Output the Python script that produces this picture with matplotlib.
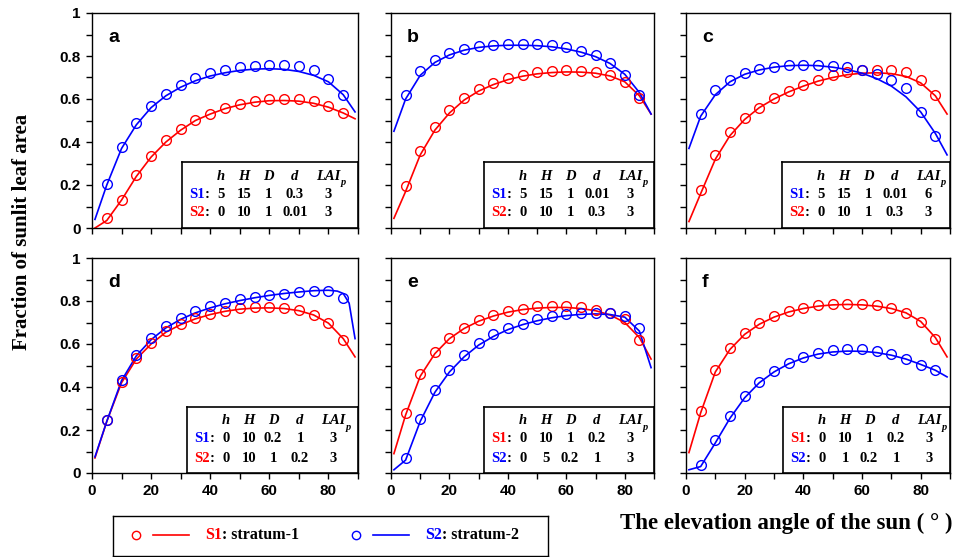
import numpy as np
import matplotlib
matplotlib.use("Agg")
import matplotlib.pyplot as plt

# elevation angles of the simulated points and of the model curves
x_pts = [5, 10, 15, 20, 25, 30, 35, 40, 45, 50, 55, 60, 65, 70, 75, 80, 85]
x_curve = [1, 5, 10, 15, 20, 25, 30, 35, 40, 45, 50, 55, 60, 65, 70, 75, 80, 85, 89]
x_curve_d_blue = [1, 5, 10, 15, 20, 25, 30, 35, 40, 45, 50, 55, 60, 65, 70, 75, 80, 83, 85, 87, 89]

# panel a
a_blue_pts = [0.206, 0.375, 0.487, 0.567, 0.625, 0.667, 0.698, 0.721, 0.736, 0.747, 0.755, 0.760, 0.758, 0.752, 0.735, 0.695, 0.620]
a_red_pts = [0.048, 0.132, 0.245, 0.336, 0.409, 0.462, 0.504, 0.532, 0.558, 0.577, 0.591, 0.598, 0.602, 0.598, 0.589, 0.567, 0.536]
a_blue_curve = [0.04, 0.20, 0.37, 0.48, 0.56, 0.615, 0.655, 0.685, 0.707, 0.722, 0.733, 0.739, 0.741, 0.738, 0.728, 0.71, 0.68, 0.62, 0.54]
a_red_curve = [0.0, 0.035, 0.13, 0.24, 0.33, 0.40, 0.455, 0.50, 0.53, 0.555, 0.573, 0.585, 0.592, 0.593, 0.59, 0.58, 0.562, 0.535, 0.508]

# panel b
b_blue_pts = [0.620, 0.730, 0.781, 0.816, 0.833, 0.845, 0.853, 0.856, 0.857, 0.854, 0.851, 0.840, 0.825, 0.805, 0.767, 0.712, 0.619]
b_red_pts = [0.194, 0.358, 0.470, 0.547, 0.605, 0.645, 0.674, 0.696, 0.712, 0.724, 0.730, 0.733, 0.732, 0.727, 0.712, 0.681, 0.606]
b_blue_curve = [0.45, 0.60, 0.71, 0.77, 0.805, 0.827, 0.84, 0.847, 0.85, 0.85, 0.848, 0.843, 0.833, 0.818, 0.797, 0.765, 0.715, 0.63, 0.53]
b_red_curve = [0.045, 0.17, 0.34, 0.455, 0.535, 0.595, 0.637, 0.667, 0.69, 0.706, 0.717, 0.723, 0.726, 0.725, 0.72, 0.707, 0.68, 0.615, 0.53]

# panel c
c_blue_pts = [0.53, 0.64, 0.69, 0.72, 0.74, 0.75, 0.76, 0.76, 0.76, 0.755, 0.75, 0.735, 0.715, 0.69, 0.65, 0.54, 0.43]
c_red_pts = [0.175, 0.34, 0.445, 0.51, 0.56, 0.605, 0.635, 0.665, 0.69, 0.71, 0.725, 0.735, 0.735, 0.735, 0.725, 0.69, 0.62]
c_blue_curve = [0.37, 0.52, 0.62, 0.68, 0.715, 0.735, 0.748, 0.755, 0.757, 0.755, 0.748, 0.737, 0.72, 0.695, 0.66, 0.61, 0.54, 0.44, 0.34]
c_red_curve = [0.03, 0.16, 0.32, 0.43, 0.505, 0.56, 0.60, 0.633, 0.66, 0.683, 0.70, 0.713, 0.72, 0.722, 0.718, 0.705, 0.675, 0.615, 0.53]

# panel d
d_blue_pts = [0.247, 0.433, 0.550, 0.629, 0.682, 0.722, 0.752, 0.775, 0.792, 0.808, 0.819, 0.829, 0.833, 0.842, 0.848, 0.847, 0.816]
d_red_pts = [0.247, 0.423, 0.535, 0.605, 0.660, 0.693, 0.719, 0.740, 0.755, 0.766, 0.771, 0.771, 0.769, 0.758, 0.735, 0.696, 0.620]
d_blue_curve = [0.075, 0.24, 0.43, 0.545, 0.62, 0.675, 0.715, 0.745, 0.768, 0.787, 0.802, 0.815, 0.826, 0.835, 0.842, 0.848, 0.85, 0.846, 0.835, 0.79, 0.625]
d_red_curve = [0.07, 0.24, 0.42, 0.53, 0.60, 0.655, 0.69, 0.717, 0.737, 0.752, 0.762, 0.767, 0.768, 0.765, 0.755, 0.735, 0.697, 0.625, 0.54]

# panel e
e_red_pts = [0.28, 0.46, 0.565, 0.63, 0.675, 0.71, 0.735, 0.755, 0.765, 0.775, 0.775, 0.775, 0.77, 0.76, 0.745, 0.715, 0.62]
e_blue_pts = [0.07, 0.25, 0.385, 0.48, 0.55, 0.605, 0.645, 0.675, 0.695, 0.715, 0.73, 0.74, 0.745, 0.745, 0.745, 0.73, 0.675]
e_red_curve = [0.09, 0.27, 0.45, 0.555, 0.625, 0.672, 0.706, 0.73, 0.748, 0.76, 0.767, 0.77, 0.77, 0.765, 0.755, 0.735, 0.70, 0.63, 0.53]
e_blue_curve = [0.015, 0.06, 0.24, 0.375, 0.47, 0.54, 0.595, 0.635, 0.667, 0.69, 0.708, 0.722, 0.732, 0.738, 0.74, 0.737, 0.725, 0.66, 0.49]

# panel f
f_red_pts = [0.290, 0.478, 0.583, 0.653, 0.696, 0.729, 0.752, 0.767, 0.780, 0.784, 0.788, 0.784, 0.780, 0.769, 0.744, 0.701, 0.622]
f_blue_pts = [0.036, 0.152, 0.265, 0.358, 0.423, 0.473, 0.513, 0.538, 0.557, 0.571, 0.577, 0.577, 0.569, 0.552, 0.529, 0.504, 0.478]
f_red_curve = [0.095, 0.28, 0.47, 0.575, 0.645, 0.692, 0.725, 0.749, 0.765, 0.776, 0.782, 0.784, 0.782, 0.776, 0.765, 0.745, 0.705, 0.63, 0.54]
f_blue_curve = [0.015, 0.03, 0.14, 0.255, 0.35, 0.42, 0.47, 0.508, 0.535, 0.553, 0.563, 0.567, 0.566, 0.56, 0.548, 0.53, 0.505, 0.478, 0.447]

panel_letters = ["a", "b", "c", "d", "e", "f"]
param_names = ["h", "H", "D", "d", "LAI"]
# rows of the inset tables: (label, colour, values)
tables = [
    [("S1", "blue", ["5", "15", "1", "0.3", "3"]), ("S2", "red", ["0", "10", "1", "0.01", "3"])],
    [("S1", "blue", ["5", "15", "1", "0.01", "3"]), ("S2", "red", ["0", "10", "1", "0.3", "3"])],
    [("S1", "blue", ["5", "15", "1", "0.01", "6"]), ("S2", "red", ["0", "10", "1", "0.3", "3"])],
    [("S1", "blue", ["0", "10", "0.2", "1", "3"]), ("S2", "red", ["0", "10", "1", "0.2", "3"])],
    [("S1", "red", ["0", "10", "1", "0.2", "3"]), ("S2", "blue", ["0", "5", "0.2", "1", "3"])],
    [("S1", "red", ["0", "10", "1", "0.2", "3"]), ("S2", "blue", ["0", "1", "0.2", "1", "3"])],
]

panels = [
    (x_curve, a_red_curve, a_red_pts, x_curve, a_blue_curve, a_blue_pts),
    (x_curve, b_red_curve, b_red_pts, x_curve, b_blue_curve, b_blue_pts),
    (x_curve, c_red_curve, c_red_pts, x_curve, c_blue_curve, c_blue_pts),
    (x_curve, d_red_curve, d_red_pts, x_curve_d_blue, d_blue_curve, d_blue_pts),
    (x_curve, e_red_curve, e_red_pts, x_curve, e_blue_curve, e_blue_pts),
    (x_curve, f_red_curve, f_red_pts, x_curve, f_blue_curve, f_blue_pts),
]

RED = "#ff0000"
BLUE = "#0000ff"
colors = {"red": RED, "blue": BLUE}
SANS = "Liberation Sans"
SERIF = "Liberation Serif"

W, H = 957, 557
fig = plt.figure(figsize=(W / 100, H / 100), dpi=100)


def px_axes(left, top, w, h, **kw):
    return fig.add_axes([left / W, 1 - (top + h) / H, w / W, h / H], **kw)


col_left = [92, 391, 686]
col_width = [266, 263, 264]
row_top = [13, 258]
ax_h = 215
box_left = [182, 484, 782, 187, 484, 783]

for i, (xr, yr, pr, xb, yb, pb) in enumerate(panels):
    r, c = divmod(i, 3)
    ax = px_axes(col_left[c], row_top[r], col_width[c], ax_h)
    ax.plot(xr, yr, color=RED, lw=1.2)
    ax.plot(xb, yb, color=BLUE, lw=1.2)
    ax.plot(x_pts, pr, "o", mfc="none", mec=RED, ms=7, mew=1.0)
    ax.plot(x_pts, pb, "o", mfc="none", mec=BLUE, ms=7, mew=1.0)
    ax.set_xlim(0, 90)
    ax.set_ylim(0, 1)
    ax.set_xticks(range(0, 91, 10))
    ax.set_yticks(np.arange(0, 1.01, 0.1))
    if r == 1:
        ax.set_xticklabels([str(v) if v % 20 == 0 and v < 90 else "" for v in range(0, 91, 10)])
    else:
        ax.set_xticklabels([])
    if c == 0:
        ax.set_yticklabels(["0", "", "0.2", "", "0.4", "", "0.6", "", "0.8", "", "1"])
    else:
        ax.set_yticklabels([])
    ax.tick_params(direction="out", length=4, width=1, pad=4, top=False, right=False)
    for lab in ax.get_xticklabels() + ax.get_yticklabels():
        lab.set_fontfamily(SANS)
        lab.set_fontweight("bold")
        lab.set_fontsize(11)
    for sp in ax.spines.values():
        sp.set_linewidth(1)
    ax.text(0.06, 0.885, panel_letters[i], transform=ax.transAxes, fontsize=14,
            fontfamily=SANS, fontweight="bold", ha="left", va="center")

    # inset parameter table
    bl = box_left[i]
    bw = col_left[c] + col_width[c] - bl
    bh = 66
    tab = px_axes(bl, row_top[r] + ax_h - bh, bw, bh, zorder=5)
    tab.set_xlim(0, bw)
    tab.set_ylim(bh, 0)
    tab.set_xticks([])
    tab.set_yticks([])
    for sp in tab.spines.values():
        sp.set_linewidth(1.2)
    col_x = [39, 62, 86, 113, 146]
    fkw = dict(fontfamily=SERIF, fontweight="bold", fontsize=10.5)
    for cx, name in zip(col_x, param_names):
        t = tab.text(cx, 14, name, ha="center", va="center", style="italic", **fkw)
        if name == "LAI":
            tab.annotate("p", xy=(1, 0), xycoords=t, xytext=(0.3, -3), textcoords="offset points",
                         ha="left", va="bottom", fontfamily=SERIF, fontweight="bold",
                         style="italic", fontsize=7.5)
    for ry, (lab, col, vals) in zip([32, 51], tables[i]):
        t = tab.text(7, ry, lab, ha="left", va="center", color=colors[col], **fkw)
        tab.annotate(":", xy=(1, 0), xycoords=t, ha="left", va="bottom", **fkw)
        for cx, v in zip(col_x, vals):
            tab.text(cx, ry, v, ha="center", va="center", **fkw)

# legend box at the bottom
leg = px_axes(113, 516, 435, 40)
leg.set_xlim(0, 435)
leg.set_ylim(40, 0)
leg.set_xticks([])
leg.set_yticks([])
for sp in leg.spines.values():
    sp.set_linewidth(1)
lkw = dict(fontfamily=SERIF, fontweight="bold", fontsize=11.5)
for x0, col, lab, txt in [(23, RED, "S1", ": stratum-1"), (243, BLUE, "S2", ": stratum-2")]:
    leg.plot([x0], [19], "o", mfc="none", mec=col, ms=6, mew=1.0)
    leg.plot([x0 + 17, x0 + 53], [19, 19], color=col, lw=1.2)
    t = leg.text(x0 + 69, 19, lab, color=col, ha="left", va="center", **lkw)
    leg.annotate(txt, xy=(1, 0), xycoords=t, ha="left", va="bottom", **lkw)

fig.text(786 / W, 1 - 523 / H, "The elevation angle of the sun ( \u00b0 )", ha="center", va="center",
         fontfamily=SERIF, fontweight="bold", fontsize=16.5)
fig.text(22 / W, 1 - 232 / H, "Fraction of sunlit leaf area", ha="center", va="center",
         rotation=90, fontfamily=SERIF, fontweight="bold", fontsize=15)

fig.savefig("out.png", dpi=100)
